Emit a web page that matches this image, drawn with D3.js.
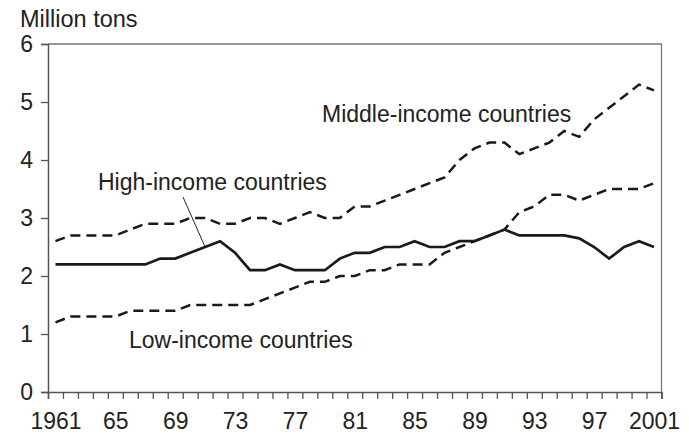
<!DOCTYPE html>
<html>
<head>
<meta charset="utf-8">
<script src="https://cdn.jsdelivr.net/npm/d3@7"></script>
<style>
  body { margin: 0; background: #fff; }
  svg text { font-family: "Liberation Sans", Arial, sans-serif; fill: #222; }
</style>
</head>
<body>
<div id="chart"></div>
<script>
// years 1961..2001
var years = d3.range(1961, 2002);

var highIncome = [2.2, 2.2, 2.2, 2.2, 2.2, 2.2, 2.2, 2.3, 2.3, 2.4,
  2.5, 2.6, 2.4, 2.1, 2.1, 2.2, 2.1, 2.1, 2.1, 2.3,
  2.4, 2.4, 2.5, 2.5, 2.6, 2.5, 2.5, 2.6, 2.6, 2.7,
  2.8, 2.7, 2.7, 2.7, 2.7, 2.65, 2.5, 2.3, 2.5, 2.6, 2.5];

var middleIncome = [2.6, 2.7, 2.7, 2.7, 2.7, 2.8, 2.9, 2.9, 2.9, 3.0,
  3.0, 2.9, 2.9, 3.0, 3.0, 2.9, 3.0, 3.1, 3.0, 3.0,
  3.2, 3.2, 3.3, 3.4, 3.5, 3.6, 3.7, 4.0, 4.2, 4.3,
  4.3, 4.1, 4.2, 4.3, 4.5, 4.4, 4.7, 4.9, 5.1, 5.3, 5.2];

var lowIncome = [1.2, 1.3, 1.3, 1.3, 1.3, 1.4, 1.4, 1.4, 1.4, 1.5,
  1.5, 1.5, 1.5, 1.5, 1.6, 1.7, 1.8, 1.9, 1.9, 2.0,
  2.0, 2.1, 2.1, 2.2, 2.2, 2.2, 2.4, 2.5, 2.6, 2.7,
  2.8, 3.1, 3.2, 3.4, 3.4, 3.3, 3.4, 3.5, 3.5, 3.5, 3.6];

var yTicks = [0, 1, 2, 3, 4, 5, 6];
var xLabelYears = [1961, 1965, 1969, 1973, 1977, 1981, 1985, 1989, 1993, 1997, 2001];

(function () {
  var w = 689, h = 437;
  var pLeft = 48, pRight = 661.5, pTop = 44, pBottom = 392;

  var svg = d3.select('#chart')
    .append('svg')
    .attr('width', w)
    .attr('height', h);

  // category axis: each year sits in the middle of its slot
  var x = d3.scaleLinear()
    .domain([1960.5, 2001.5])
    .range([pLeft, pRight]);

  var y = d3.scaleLinear()
    .domain([0, 6])
    .range([pBottom, pTop]);

  // frame (top + right)
  svg.append('path')
    .attr('d', 'M' + pLeft + ',' + pTop + 'H' + pRight + 'V' + pBottom)
    .attr('fill', 'none')
    .attr('stroke', '#777')
    .attr('stroke-width', 1.3);

  // y axis
  var yAxis = svg.append('g')
    .attr('transform', 'translate(' + pLeft + ',0)')
    .call(d3.axisLeft(y).tickValues(yTicks).tickSize(7).tickPadding(8).tickFormat(d3.format('d')));

  // x axis ticks at slot boundaries
  var xAxis = svg.append('g')
    .attr('transform', 'translate(0,' + pBottom + ')')
    .call(d3.axisBottom(x).tickValues(d3.range(1960.5, 2002, 1)).tickSize(7).tickFormat(''));

  // x labels at slot centres
  var xLabels = svg.append('g')
    .attr('transform', 'translate(0,' + pBottom + ')')
    .call(d3.axisBottom(x).tickValues(xLabelYears).tickSize(0).tickPadding(21)
      .tickFormat(function (d) { return d === 1961 || d === 2001 ? String(d) : String(d).slice(2); }));

  [yAxis, xAxis, xLabels].forEach(function (g) {
    g.selectAll('.domain').attr('stroke', '#555').attr('stroke-width', 1.5);
    g.selectAll('.tick line').attr('stroke', '#555').attr('stroke-width', 1.3);
    g.selectAll('text').style('font-size', '23px').attr('fill', '#222');
  });
  xLabels.select('.domain').remove();

  var line = d3.line()
    .x(function (d, i) { return x(years[i]); })
    .y(function (d) { return y(d); });

  svg.append('path')
    .datum(middleIncome)
    .attr('d', line)
    .attr('fill', 'none')
    .attr('stroke', '#1a1a1a')
    .attr('stroke-width', 2.5)
    .attr('stroke-dasharray', '10,6');

  svg.append('path')
    .datum(lowIncome)
    .attr('d', line)
    .attr('fill', 'none')
    .attr('stroke', '#1a1a1a')
    .attr('stroke-width', 2.5)
    .attr('stroke-dasharray', '10,6');

  svg.append('path')
    .datum(highIncome)
    .attr('d', line)
    .attr('fill', 'none')
    .attr('stroke', '#1a1a1a')
    .attr('stroke-width', 2.7);

  // labels
  svg.append('text')
    .attr('x', 20)
    .attr('y', 27)
    .style('font-size', '23.5px')
    .text('Million tons');

  svg.append('text')
    .attr('x', 98)
    .attr('y', 190)
    .style('font-size', '23px')
    .text('High-income countries');

  svg.append('text')
    .attr('x', 322)
    .attr('y', 122)
    .style('font-size', '23px')
    .text('Middle-income countries');

  svg.append('text')
    .attr('x', 129)
    .attr('y', 348)
    .style('font-size', '23px')
    .text('Low-income countries');

  // leader line to the high-income series
  svg.append('line')
    .attr('x1', 183).attr('y1', 197)
    .attr('x2', x(1971)).attr('y2', y(highIncome[10]))
    .attr('stroke', '#222')
    .attr('stroke-width', 1);
})();
</script>
</body>
</html>
